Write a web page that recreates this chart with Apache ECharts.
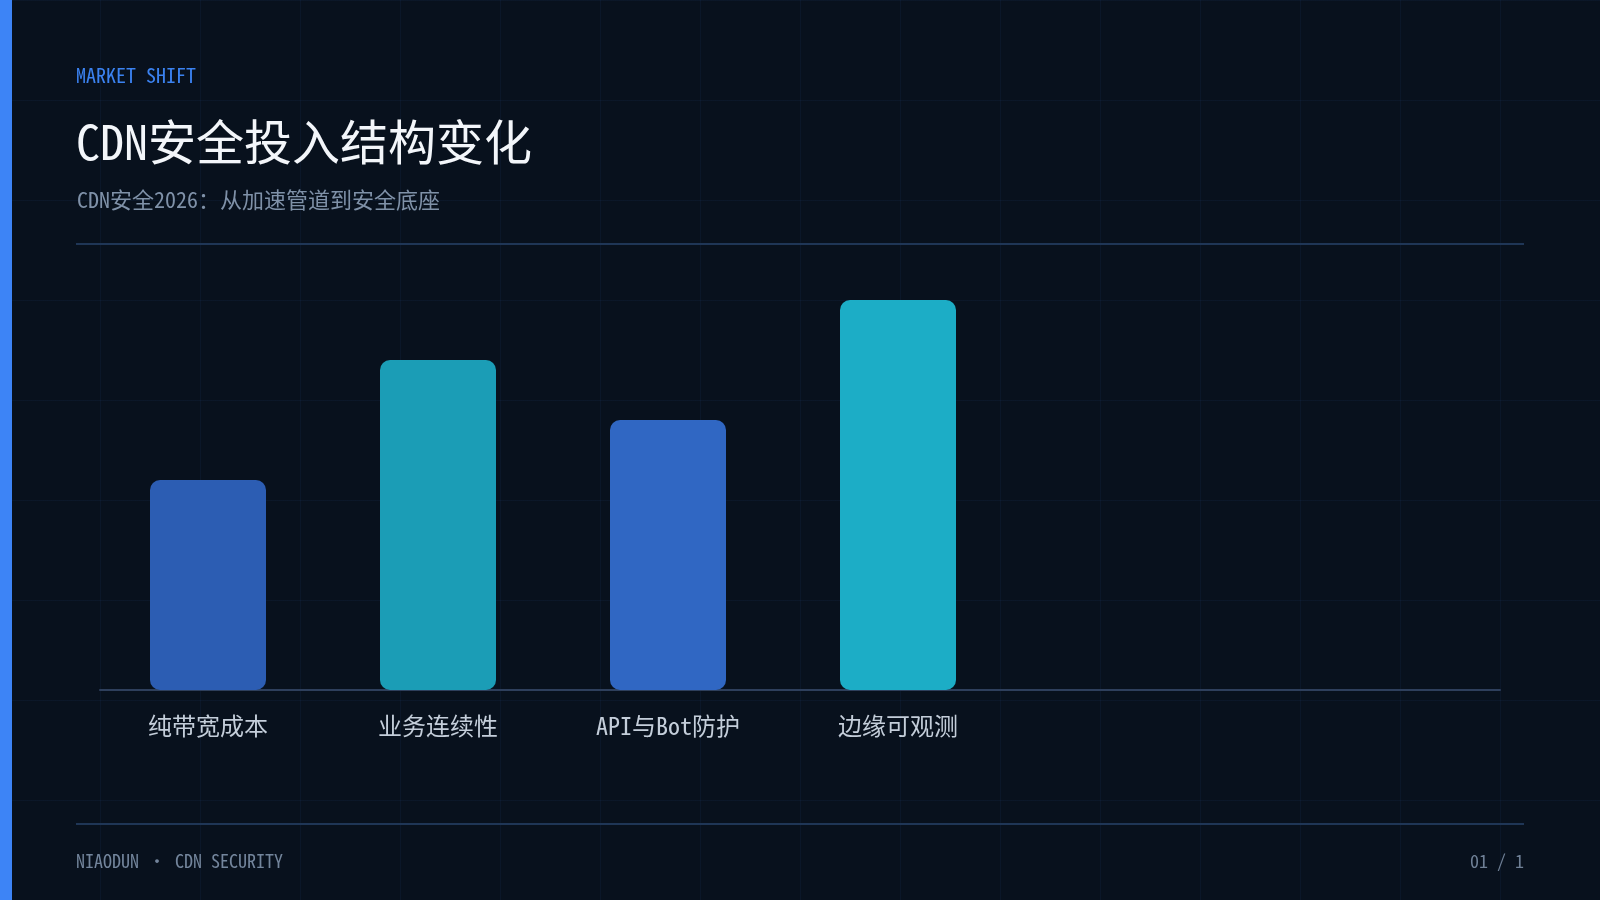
<!DOCTYPE html>
<html lang="zh-CN">
<head>
<meta charset="utf-8">
<title>CDN安全投入结构变化</title>
<script src="https://cdn.jsdelivr.net/npm/echarts@6/dist/echarts.min.js"></script>
<style>
  html, body {
    margin: 0;
    padding: 0;
    width: 1600px;
    height: 900px;
    overflow: hidden;
    background-color: #08111d;
    background-image:
      linear-gradient(to right, rgba(59, 130, 246, 0.055) 1px, transparent 1px),
      linear-gradient(to bottom, rgba(59, 130, 246, 0.055) 1px, transparent 1px);
    background-size: 100px 100px;
  }
  #chart {
    position: absolute;
    left: 0;
    top: 0;
    width: 1600px;
    height: 900px;
  }
</style>
</head>
<body>
<div id="chart"></div>
<script>
  // chart data
  const categories = ['纯带宽成本', '业务连续性', 'API与Bot防护', '边缘可观测']
  const values = [35, 55, 45, 65]

  // page texts
  const kicker = 'MARKET SHIFT'
  const title = 'CDN安全投入结构变化'
  const subtitle = 'CDN安全2026：从加速管道到安全底座'
  const footerLeft = 'NIAODUN · CDN SECURITY'
  const footerRight = '01 / 1'

  const FONT = "'Noto Sans Mono CJK SC', 'Noto Sans CJK SC', monospace"
  const barColors = ['#2c5db3', '#1b9db6', '#3067c3', '#1cadc6']

  const chart = echarts.init(document.getElementById('chart'), null, { renderer: 'canvas' })

  // helper for plain text elements
  const label = (text, x, y, size, fill, align) => ({
    type: 'text',
    x: x,
    y: y,
    silent: true,
    style: {
      text: text,
      fill: fill,
      fontSize: size,
      fontFamily: FONT,
      align: align || 'left',
      verticalAlign: 'middle',
      textAlign: align || 'left',
      textVerticalAlign: 'middle'
    }
  })

  const option = {
    backgroundColor: 'transparent',
    animation: false,
    grid: [
      // bars
      { left: 93, top: 270, width: 920, height: 420 },
      // full width baseline
      { left: 100, top: 270, width: 1400, height: 420 }
    ],
    xAxis: [
      {
        type: 'category',
        gridIndex: 0,
        data: categories,
        axisLine: { show: false },
        axisTick: { show: false },
        splitLine: { show: false },
        axisLabel: {
          color: '#c4ceda',
          fontSize: 24,
          lineHeight: 24,
          fontFamily: FONT,
          margin: 24,
          interval: 0
        }
      },
      {
        type: 'category',
        gridIndex: 1,
        data: [''],
        axisLine: { show: true, lineStyle: { color: '#2e3f5c', width: 2 } },
        axisTick: { show: false },
        axisLabel: { show: false },
        splitLine: { show: false }
      }
    ],
    yAxis: [
      { type: 'value', gridIndex: 0, min: 0, max: 70, show: false },
      { type: 'value', gridIndex: 1, min: 0, max: 70, show: false }
    ],
    series: [
      {
        type: 'bar',
        xAxisIndex: 0,
        yAxisIndex: 0,
        barWidth: 116,
        data: values.map((v, i) => ({
          value: v,
          itemStyle: { color: barColors[i], borderRadius: 10 }
        })),
        label: { show: false },
        emphasis: { disabled: true }
      }
    ],
    graphic: [
      // left accent bar
      { type: 'rect', x: 0, y: 0, shape: { width: 12, height: 900 }, style: { fill: '#3d84f6' }, silent: true },
      label(kicker, 76, 75, 20, '#3b82f0'),
      label(title, 76, 142, 48, '#f3f6fa'),
      label(subtitle, 77, 200, 22, '#7f91a8'),
      // header divider
      { type: 'line', shape: { x1: 76, y1: 244, x2: 1524, y2: 244 }, style: { stroke: '#1f3656', lineWidth: 2 }, silent: true },
      // footer divider
      { type: 'line', shape: { x1: 76, y1: 824, x2: 1524, y2: 824 }, style: { stroke: '#1f3656', lineWidth: 2 }, silent: true },
      label(footerLeft, 76, 861, 18, '#73859c'),
      label(footerRight, 1524, 861, 18, '#6f8096', 'right')
    ]
  }

  chart.setOption(option)
</script>
</body>
</html>
